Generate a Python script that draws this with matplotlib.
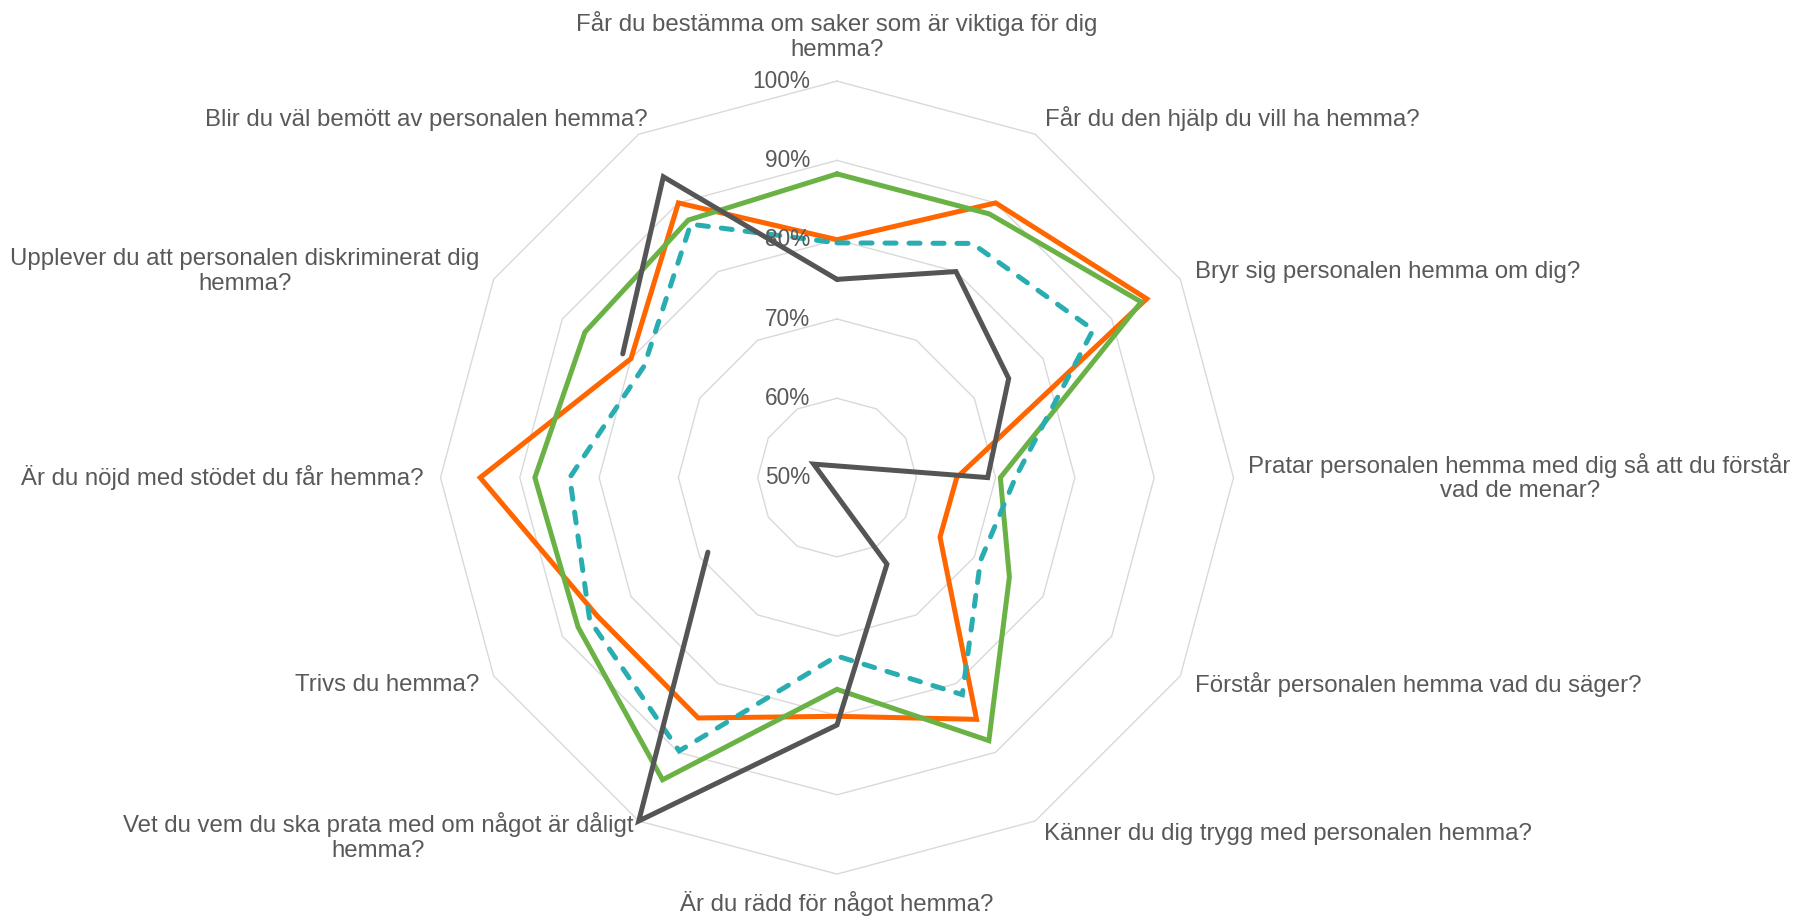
import numpy as np
import matplotlib
matplotlib.use("Agg")
import matplotlib.pyplot as plt

plt.rcParams["font.family"] = ["Liberation Sans", "DejaVu Sans"]

# frågor, medurs från toppen
categories = [
    "Får du bestämma om saker som är viktiga för dig\nhemma?",
    "Får du den hjälp du vill ha hemma?",
    "Bryr sig personalen hemma om dig?",
    "Pratar personalen hemma med dig så att du förstår\nvad de menar?",
    "Förstår personalen hemma vad du säger?",
    "Känner du dig trygg med personalen hemma?",
    "Är du rädd för något hemma?",
    "Vet du vem du ska prata med om något är dåligt\nhemma?",
    "Trivs du hemma?",
    "Är du nöjd med stödet du får hemma?",
    "Upplever du att personalen diskriminerat dig\nhemma?",
    "Blir du väl bemött av personalen hemma?",
]

# andel (%) per serie
orange_vals = [80.0, 90.0, 95.1, 65.1, 65.0, 85.2, 80.1, 85.0, 84.9, 95.0, 80.0, 90.0]
green_vals = [88.3, 88.4, 94.3, 70.6, 75.1, 88.3, 76.7, 94.0, 87.7, 88.1, 86.7, 87.5]
teal_vals = [79.6, 84.1, 87.3, 72.5, 70.9, 81.6, 72.5, 89.8, 86.0, 83.7, 78.1, 86.9]
gray_vals = [75.0, 80.0, 75.0, 69.0, 46.6, 62.6, 81.2, 100.0, 68.8, np.nan, 81.2, 93.8]

ring_levels = [60, 70, 80, 90, 100]
tick_levels = [50, 60, 70, 80, 90, 100]
tick_labels = ["50%", "60%", "70%", "80%", "90%", "100%"]
r_min = 50

text_col = "#595959"
grid_col = "#D9D9D9"

n = len(categories)
angles = np.arange(n) * 2 * np.pi / n


def to_xy(values):
    # Excel-radar: värden under axelns minimum hamnar på motsatt sida
    r = np.asarray(values, dtype=float) - r_min
    r = np.append(r, r[0])
    a = np.append(angles, angles[0])
    return r * np.sin(a), r * np.cos(a)


fig = plt.figure(figsize=(18.01, 9.17), dpi=100)
ax = fig.add_axes([0, 0, 1, 1])
px = 7.93  # pixlar per procentenhet
cx, cy = 837, 917 - 477.6
ax.set_xlim(-cx / px, (1801 - cx) / px)
ax.set_ylim(-cy / px, (917 - cy) / px)
ax.set_aspect("equal")
ax.axis("off")

# rutnät (polygoner)
for lev in ring_levels:
    gx, gy = to_xy([lev] * n)
    ax.plot(gx, gy, color=grid_col, lw=1.0, zorder=1)

# serier
series = [
    (orange_vals, "#FF6600", "-"),
    (green_vals, "#6AB245", "-"),
    (teal_vals, "#2AADB0", (0, (2.2, 2.6))),
    (gray_vals, "#555555", "-"),
]
for vals, col, ls in series:
    x, y = to_xy(vals)
    ax.plot(x, y, color=col, lw=3.6, linestyle=ls, zorder=3,
            solid_joinstyle="miter", solid_capstyle="round",
            dash_capstyle="round", dash_joinstyle="miter")

# axeletiketter
for lev, lab in zip(tick_levels, tick_labels):
    ax.annotate(lab, (0, lev - r_min), xytext=(-27, 0), textcoords="offset pixels",
                ha="right", va="center", fontsize=16.3, color=text_col, zorder=4)

# kategorietiketter: (dx, dy) i pixlar, horisontell justering
label_pos = [
    (0, 45, "center"),
    (10, 16, "left"),
    (15, 7, "left"),
    (15, 0, "left"),
    (15, -9, "left"),
    (9, -13, "left"),
    (0, -29, "center"),
    (-5, -16, "right"),
    (-14, -9, "right"),
    (-17, 0, "right"),
    (-14, 8, "right"),
    (9, 14, "right"),
]
ox, oy = to_xy([100] * n)
for i, cat in enumerate(categories):
    dx, dy, ha = label_pos[i]
    ax.annotate(cat, (ox[i], oy[i]), xytext=(dx, dy), textcoords="offset pixels",
                ha=ha, va="center", multialignment="center", fontsize=17.3,
                color=text_col, linespacing=1.15)

fig.savefig("out.png", dpi=100)
